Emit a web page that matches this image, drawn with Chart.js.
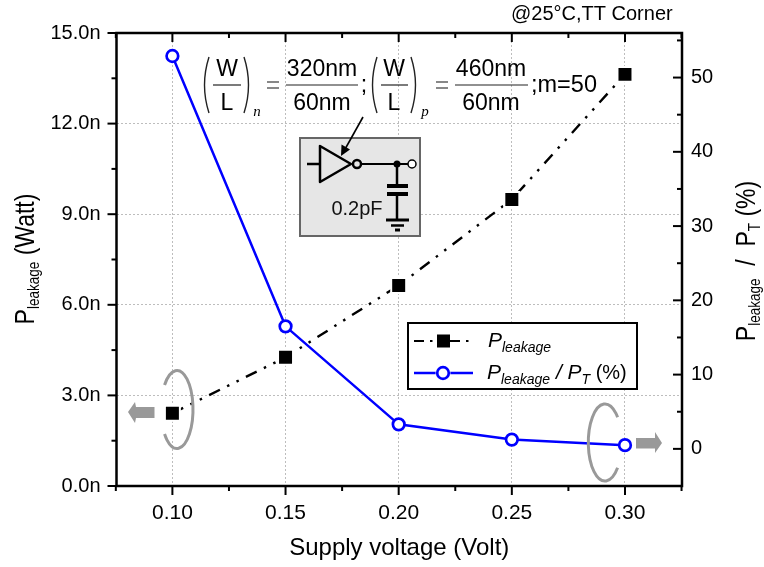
<!DOCTYPE html>
<html>
<head>
<meta charset="utf-8">
<script src="https://cdn.jsdelivr.net/npm/chart.js@4"></script>
<style>
  body { margin: 0; background: #fff; }
  canvas { display: block; }
</style>
</head>
<body>
<canvas id="leakage-chart" width="764" height="567"></canvas>
<script>
var voltages = [0.10, 0.15, 0.20, 0.25, 0.30];
var leakagePower = [2.41, 4.26, 6.64, 9.49, 13.63];
var leakageRatio = [52.9, 16.5, 3.3, 1.25, 0.5];

var xMajorTicks = [0.10, 0.15, 0.20, 0.25, 0.30];
var xMinorTicks = [0.075, 0.125, 0.175, 0.225, 0.275, 0.325];
var leftMajorTicks = [0, 3, 6, 9, 12, 15];
var leftMinorTicks = [1.5, 4.5, 7.5, 10.5, 13.5];
var rightMajorTicks = [0, 10, 20, 30, 40, 50];
var rightMinorTicks = [-5, 5, 15, 25, 35, 45, 55];

var FONT = '"Liberation Sans", Arial, sans-serif';

function setTicks(major, minor) {
  return function(scale) {
    scale.ticks = major.concat(minor).sort(function(a, b) { return a - b; }).map(function(v) {
      return { value: v };
    });
  };
}

function line(ctx, x1, y1, x2, y2, color, width) {
  ctx.strokeStyle = color;
  ctx.lineWidth = width;
  ctx.beginPath();
  ctx.moveTo(x1, y1);
  ctx.lineTo(x2, y2);
  ctx.stroke();
}

function text(ctx, str, x, y, font, align) {
  ctx.font = font;
  ctx.textAlign = align || 'center';
  ctx.textBaseline = 'alphabetic';
  ctx.fillStyle = '#000';
  ctx.fillText(str, x, y);
}

// text run with subscripts, returns the end x
function runs(ctx, parts, x, y) {
  ctx.textAlign = 'left';
  ctx.textBaseline = 'alphabetic';
  ctx.fillStyle = '#000';
  parts.forEach(function(p) {
    ctx.font = p.font;
    ctx.fillText(p.s, x, y + (p.dy || 0));
    x += ctx.measureText(p.s).width;
  });
  return x;
}

function runsWidth(ctx, parts) {
  var w = 0;
  parts.forEach(function(p) {
    ctx.font = p.font;
    w += ctx.measureText(p.s).width;
  });
  return w;
}

// the y titles in the original are a bit stretched across the baseline
function rotatedTitle(ctx, parts, x, cy) {
  ctx.save();
  ctx.translate(x, cy);
  ctx.rotate(-Math.PI / 2);
  ctx.scale(1, 1.2);
  runs(ctx, parts, -runsWidth(ctx, parts) / 2, 0);
  ctx.restore();
}

function paren(ctx, x, top, bottom, dir) {
  ctx.strokeStyle = '#222';
  ctx.lineWidth = 1.4;
  ctx.beginPath();
  ctx.moveTo(x + dir * 5, top);
  ctx.quadraticCurveTo(x - dir * 4, (top + bottom) / 2, x + dir * 5, bottom);
  ctx.stroke();
}

function fraction(ctx, top, bottom, cx, x1, x2) {
  var f = '23px ' + FONT;
  text(ctx, top, cx, 76, f);
  text(ctx, bottom, cx, 109.5, f);
  line(ctx, x1, 85, x2, 85, '#222', 1.2);
}

function equalSign(ctx, x) {
  line(ctx, x - 6, 82, x + 6, 82, '#555', 1.4);
  line(ctx, x - 6, 88, x + 6, 88, '#555', 1.4);
}

function drawFormula(ctx) {
  var sub = 'italic 15px "Liberation Serif", serif';
  paren(ctx, 204, 57, 113, 1);
  paren(ctx, 249, 57, 113, -1);
  fraction(ctx, 'W', 'L', 227, 213, 241);
  text(ctx, 'n', 257, 116, sub);
  equalSign(ctx, 273);
  fraction(ctx, '320nm', '60nm', 322, 286, 358);
  text(ctx, ';', 364, 92, '23px ' + FONT);
  paren(ctx, 372, 57, 113, 1);
  paren(ctx, 416, 57, 113, -1);
  fraction(ctx, 'W', 'L', 394, 381, 408);
  text(ctx, 'p', 425, 116, sub);
  equalSign(ctx, 442);
  fraction(ctx, '460nm', '60nm', 491, 455, 528);
  text(ctx, ';m=50', 531, 92, '23.5px ' + FONT, 'left');
}

function drawInset(ctx) {
  ctx.fillStyle = '#e6e6e6';
  ctx.fillRect(300, 138, 120, 98);
  ctx.strokeStyle = '#666';
  ctx.lineWidth = 2;
  ctx.strokeRect(300, 138, 120, 98);

  line(ctx, 307, 164, 319, 164, '#000', 2.5);
  ctx.strokeStyle = '#000';
  ctx.lineWidth = 2.5;
  ctx.lineJoin = 'round';
  ctx.beginPath();
  ctx.moveTo(320, 146);
  ctx.lineTo(320, 182);
  ctx.lineTo(351, 164);
  ctx.closePath();
  ctx.stroke();
  ctx.lineJoin = 'miter';

  line(ctx, 361, 164, 408, 164, '#000', 2.2);
  ctx.beginPath();
  ctx.arc(357, 164, 4, 0, Math.PI * 2);
  ctx.fillStyle = '#e6e6e6';
  ctx.fill();
  ctx.lineWidth = 2.5;
  ctx.stroke();

  ctx.fillStyle = '#000';
  ctx.beginPath();
  ctx.arc(397, 164, 3.5, 0, Math.PI * 2);
  ctx.fill();
  ctx.beginPath();
  ctx.arc(412, 164, 4, 0, Math.PI * 2);
  ctx.fillStyle = '#fff';
  ctx.fill();
  ctx.lineWidth = 1.5;
  ctx.stroke();

  line(ctx, 397, 164, 397, 185, '#000', 2.5);
  line(ctx, 387, 186, 408, 186, '#000', 4);
  line(ctx, 387, 194, 408, 194, '#000', 4);
  line(ctx, 397, 194, 397, 220, '#000', 2.5);
  line(ctx, 386, 220, 409, 220, '#000', 3);
  line(ctx, 391, 225.5, 404, 225.5, '#000', 2.5);
  line(ctx, 395, 230, 400, 230, '#000', 3);

  ctx.font = '20px ' + FONT;
  ctx.textAlign = 'center';
  ctx.fillStyle = '#111';
  ctx.fillText('0.2pF', 357, 215);

  // arrow from the formula to the inverter
  line(ctx, 363, 117, 344, 151, '#000', 1.6);
  ctx.fillStyle = '#000';
  ctx.beginPath();
  ctx.moveTo(341, 156);
  ctx.lineTo(341.5, 144.5);
  ctx.lineTo(350, 149.5);
  ctx.closePath();
  ctx.fill();
}

function drawGreyArrows(ctx) {
  ctx.strokeStyle = '#999';
  ctx.lineWidth = 3;
  ctx.beginPath();
  ctx.ellipse(177, 409.5, 16, 39, 0, -141 * Math.PI / 180, 141 * Math.PI / 180);
  ctx.stroke();
  ctx.beginPath();
  ctx.ellipse(605, 442.5, 16.7, 38.5, 0, 41 * Math.PI / 180, 319 * Math.PI / 180);
  ctx.stroke();

  ctx.fillStyle = '#999';
  ctx.beginPath();
  ctx.moveTo(128, 412);
  ctx.lineTo(135, 402);
  ctx.lineTo(136, 407);
  ctx.lineTo(154.5, 407);
  ctx.lineTo(154.5, 418);
  ctx.lineTo(136, 418);
  ctx.lineTo(135, 423);
  ctx.closePath();
  ctx.fill();

  ctx.beginPath();
  ctx.moveTo(662, 443);
  ctx.lineTo(655, 432);
  ctx.lineTo(655, 438);
  ctx.lineTo(636, 438);
  ctx.lineTo(636, 448.5);
  ctx.lineTo(655, 448.5);
  ctx.lineTo(655, 453);
  ctx.closePath();
  ctx.fill();
}

function drawLegend(ctx) {
  var big = 'italic 21px ' + FONT;
  var small = 'italic 14px ' + FONT;
  ctx.fillStyle = '#fff';
  ctx.fillRect(408, 323, 229, 66);
  ctx.strokeStyle = '#000';
  ctx.lineWidth = 2;
  ctx.strokeRect(408, 323, 229, 66);

  ctx.setLineDash([10, 6, 2.5, 8, 2.5, 7]);
  line(ctx, 414, 341, 471, 341, '#000', 2.2);
  ctx.setLineDash([]);
  ctx.fillStyle = '#000';
  ctx.fillRect(437, 334.5, 13, 13);
  runs(ctx, [{ s: 'P', font: big }, { s: 'leakage', font: small, dy: 5 }], 488, 347);

  line(ctx, 414, 373, 473, 373, '#0000ff', 2.5);
  ctx.beginPath();
  ctx.arc(443, 373, 7.5, 0, Math.PI * 2);
  ctx.fillStyle = '#fff';
  ctx.fill();
  ctx.beginPath();
  ctx.arc(443, 373, 5.8, 0, Math.PI * 2);
  ctx.strokeStyle = '#0000ff';
  ctx.lineWidth = 2.7;
  ctx.stroke();
  runs(ctx, [
    { s: 'P', font: big },
    { s: 'leakage', font: small, dy: 5 },
    { s: ' / P', font: big },
    { s: 'T', font: small, dy: 5 },
    { s: ' (%)', font: '20px ' + FONT }
  ], 487, 379);
}

var framePlugin = {
  id: 'frame',
  afterDraw: function(chart) {
    var ctx = chart.ctx;
    var area = chart.chartArea;
    var x = chart.scales.x, yl = chart.scales.yLeft, yr = chart.scales.yRight;
    ctx.save();

    // frame and ticks
    ctx.strokeStyle = '#000';
    ctx.lineWidth = 2.5;
    ctx.strokeRect(area.left, area.top, area.right - area.left, area.bottom - area.top);
    xMajorTicks.forEach(function(v) {
      var p = x.getPixelForValue(v);
      line(ctx, p, area.bottom, p, area.bottom + 9, '#000', 2);
      line(ctx, p, area.top, p, area.top + 9, '#000', 2);
    });
    xMinorTicks.forEach(function(v) {
      var p = x.getPixelForValue(v);
      line(ctx, p, area.bottom, p, area.bottom + 5, '#000', 2);
      line(ctx, p, area.top, p, area.top + 5, '#000', 2);
    });
    leftMajorTicks.forEach(function(v) {
      var p = yl.getPixelForValue(v);
      line(ctx, area.left - 9, p, area.left, p, '#000', 2);
    });
    leftMinorTicks.forEach(function(v) {
      var p = yl.getPixelForValue(v);
      line(ctx, area.left - 5, p, area.left, p, '#000', 2);
    });
    rightMajorTicks.forEach(function(v) {
      var p = yr.getPixelForValue(v);
      line(ctx, area.right - 9, p, area.right, p, '#000', 2);
    });
    rightMinorTicks.forEach(function(v) {
      var p = yr.getPixelForValue(v);
      line(ctx, area.right - 5, p, area.right, p, '#000', 2);
    });

    drawGreyArrows(ctx);
    drawFormula(ctx);
    drawInset(ctx);
    drawLegend(ctx);

    text(ctx, '@25\u00b0C,TT Corner', 511, 20, '20px ' + FONT, 'left');

    // y axis titles have subscripts, chart.js titles can't do that
    var t = '23px ' + FONT, s = '13.5px ' + FONT;
    rotatedTitle(ctx, [
      { s: 'P', font: t }, { s: 'leakage', font: s, dy: 4 }, { s: ' (Watt)', font: t }
    ], 34, 259);
    rotatedTitle(ctx, [
      { s: 'P', font: t }, { s: 'leakage', font: s, dy: 4 }, { s: '  /  P', font: t },
      { s: 'T', font: s, dy: 4 }, { s: ' (%)', font: t }
    ], 755, 261);

    ctx.restore();
  }
};

var gridColor = '#bdbdbd';
var gridDash = [2, 2];

new Chart(document.getElementById('leakage-chart'), {
  type: 'line',
  data: {
    labels: voltages,
    datasets: [{
      label: 'Pleakage',
      yAxisID: 'yLeft',
      data: leakagePower,
      borderColor: '#000',
      borderWidth: 2.4,
      borderDash: [12, 8, 2.5, 8, 2.5, 8],
      backgroundColor: '#000',
      pointStyle: 'rect',
      pointRadius: 10.6,
      pointBorderWidth: 2,
      pointBorderColor: '#fff',
      pointBackgroundColor: '#000',
      tension: 0
    }, {
      label: 'Pleakage / PT (%)',
      yAxisID: 'yRight',
      data: leakageRatio,
      borderColor: '#0000ff',
      borderWidth: 2.5,
      pointRadius: 5.8,
      pointBorderWidth: 2.7,
      pointBackgroundColor: '#fff',
      pointBorderColor: '#0000ff',
      tension: 0
    }]
  },
  options: {
    responsive: false,
    animation: false,
    layout: { padding: { top: 33 } },
    plugins: {
      legend: { display: false },
      title: { display: false },
      tooltip: { enabled: false }
    },
    scales: {
      x: {
        type: 'linear',
        min: 0.0753,
        max: 0.3252,
        afterBuildTicks: setTicks(xMajorTicks, xMinorTicks),
        afterFit: function(scale) { scale.height = 81; },
        border: { display: false, dash: gridDash },
        grid: {
          drawTicks: false,
          color: function(c) { return xMajorTicks.indexOf(c.tick.value) >= 0 ? gridColor : 'transparent'; },
          lineWidth: 1
        },
        ticks: {
          autoSkip: false,
          maxRotation: 0,
          padding: 15,
          color: '#000',
          font: { family: FONT, size: 21 },
          callback: function(v) { return xMajorTicks.indexOf(v) >= 0 ? v.toFixed(2) : ''; }
        },
        title: {
          display: true,
          text: 'Supply voltage (Volt)',
          color: '#000',
          font: { family: FONT, size: 24 },
          padding: { top: 0, bottom: 4 }
        }
      },
      yLeft: {
        position: 'left',
        min: 0,
        max: 15,
        afterBuildTicks: setTicks(leftMajorTicks, leftMinorTicks),
        afterFit: function(scale) { scale.width = 116.5; },
        border: { display: false, dash: gridDash },
        grid: {
          drawTicks: false,
          color: function(c) { return leftMajorTicks.indexOf(c.tick.value) >= 0 ? gridColor : 'transparent'; },
          lineWidth: 1
        },
        ticks: {
          autoSkip: false,
          padding: 16,
          color: '#000',
          font: { family: FONT, size: 20 },
          callback: function(v) { return leftMajorTicks.indexOf(v) >= 0 ? v.toFixed(1) + 'n' : ''; }
        }
      },
      yRight: {
        position: 'right',
        min: -5,
        max: 56,
        afterBuildTicks: setTicks(rightMajorTicks, rightMinorTicks),
        afterFit: function(scale) { scale.width = 82; },
        border: { display: false },
        grid: { display: false, drawTicks: false },
        ticks: {
          autoSkip: false,
          padding: 9,
          color: '#000',
          font: { family: FONT, size: 20 },
          callback: function(v) { return rightMajorTicks.indexOf(v) >= 0 ? String(v) : ''; }
        }
      }
    }
  },
  plugins: [framePlugin]
});
</script>
</body>
</html>
